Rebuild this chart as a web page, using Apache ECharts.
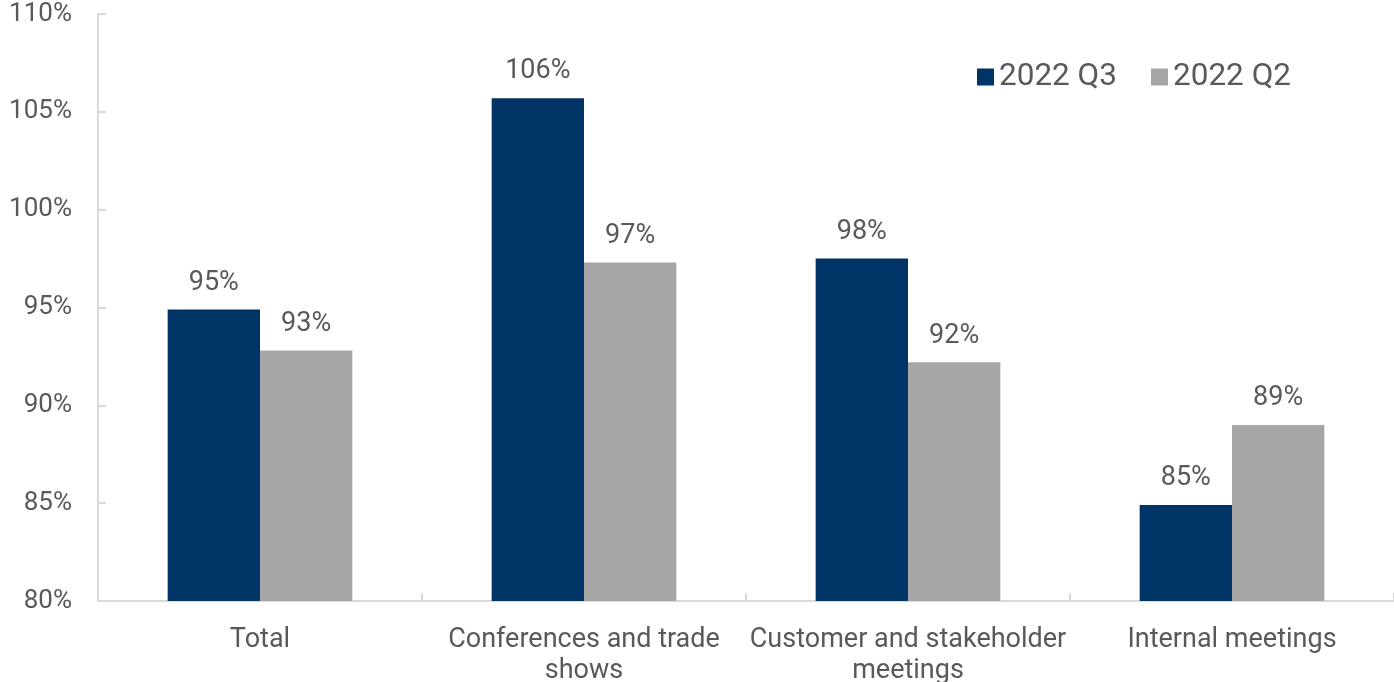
<!DOCTYPE html>
<html><head><meta charset="utf-8">
<script src="https://cdn.jsdelivr.net/npm/echarts@6/dist/echarts.min.js"></script>
<style>html,body{margin:0;padding:0;background:#fff}#c{width:1394px;height:682px}</style>
</head><body><div id="c"></div>
<script>
const categories = ['Total', 'Conferences and trade\nshows', 'Customer and stakeholder\nmeetings', 'Internal meetings'];
const q3 = [94.9, 105.7, 97.5, 84.9];
const q2 = [92.8, 97.3, 92.2, 89.0];
const seriesNames = ['2022 Q3', '2022 Q2'];
const colors = ['#003366', '#A6A6A6'];
const txt = '#595959';
const font = 'Roboto';
const chart = echarts.init(document.getElementById('c'));
const lbl = {show: true, position: 'top', distance: 13, color: txt, fontFamily: font, fontSize: 27,
  formatter: p => Math.round(p.value) + '%'};
chart.setOption({
  animation: false,
  color: colors,
  textStyle: {fontFamily: font},
  legend: {
    data: seriesNames, right: 98, top: 56, itemWidth: 17, itemHeight: 17, itemGap: 34,
    icon: 'rect', textStyle: {color: txt, fontSize: 31.5, fontFamily: font}
  },
  grid: {left: 98, right: 0, top: 14, bottom: 81, containLabel: false, outerBoundsMode: 'none'},
  xAxis: {
    type: 'category', data: categories,
    axisLine: {lineStyle: {color: '#D9D9D9', width: 2}},
    axisTick: {show: true, inside: true, length: 8, lineStyle: {color: '#D9D9D9', width: 2}},
    axisLabel: {color: txt, fontSize: 27, fontFamily: font, lineHeight: 31, margin: 24, interval: 0}
  },
  yAxis: {
    type: 'value', min: 80, max: 110, interval: 5,
    axisLine: {show: true, lineStyle: {color: '#D9D9D9', width: 2}},
    axisTick: {show: true, inside: true, length: 8, lineStyle: {color: '#D9D9D9', width: 2}},
    splitLine: {show: false},
    axisLabel: {color: txt, fontSize: 26, fontFamily: font, margin: 26, formatter: v => v + '%'}
  },
  series: [
    {name: seriesNames[0], type: 'bar', data: q3, barGap: '0%', barCategoryGap: '43%', label: lbl},
    {name: seriesNames[1], type: 'bar', data: q2, barGap: '0%', barCategoryGap: '43%', label: lbl}
  ]
});
</script></body></html>
